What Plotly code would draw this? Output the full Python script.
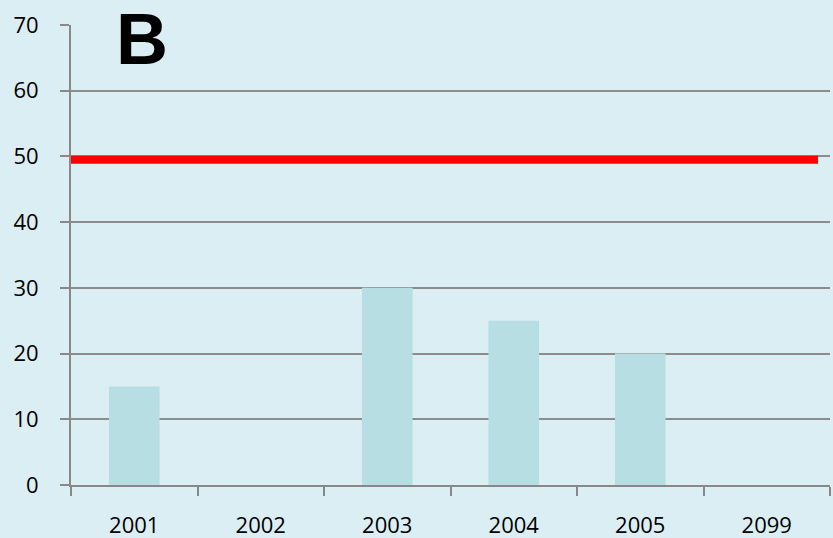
import plotly.graph_objects as go

categories = ["2001", "2002", "2003", "2004", "2005", "2099"]
values = [15, None, 30, 25, 20, None]
threshold = 49.5
threshold_x = [-0.5, 5.405]
y_ticks = [0, 10, 20, 30, 40, 50, 60, 70]
panel_label = "B"

bg = "#DBEEF3"
fig = go.Figure()
fig.add_trace(go.Bar(x=categories, y=values, marker=dict(color="#B7DFE3", line=dict(width=0)),
                     width=0.4, showlegend=False))
fig.add_trace(go.Scatter(x=threshold_x, y=[threshold, threshold], xaxis="x2", mode="lines",
                         line=dict(color="#FF0000", width=8), showlegend=False))

fig.update_layout(
    width=833, height=538,
    paper_bgcolor=bg, plot_bgcolor=bg,
    margin=dict(l=71, r=3, t=25, b=53),
    font=dict(family="Open Sans, Liberation Sans, sans-serif", size=22, color="#000000"),
    xaxis=dict(type="category", range=[-0.5, 5.5], showgrid=False, showline=True,
               linecolor="#888888", linewidth=2, ticks="outside", ticklen=9, tickcolor="#888888",
               tickwidth=2, tickson="boundaries", tickfont=dict(size=22), ticklabelstandoff=20,
               automargin=False),
    xaxis2=dict(range=[-0.5, 5.5], overlaying="x", visible=False),
    yaxis=dict(range=[0, 70], tickvals=y_ticks, showgrid=True, gridcolor="#8C8C8C", gridwidth=2,
               showline=True, linecolor="#888888", linewidth=2, ticks="outside", ticklen=9,
               tickcolor="#888888", tickwidth=2, zeroline=False, tickfont=dict(size=22),
               ticklabelstandoff=17, automargin=False),
    bargap=0.6,
)
fig.add_annotation(text="<b>" + panel_label + "</b>", xref="paper", yref="paper", x=0.057, y=1.045,
                   xanchor="left", yanchor="top", showarrow=False, height=66, valign="middle",
                   font=dict(family="Liberation Sans, Arial, sans-serif", size=72, color="#000000"))

fig.write_html("out.html", post_script="document.body.style.margin='0';",
               config={"displayModeBar": False})
